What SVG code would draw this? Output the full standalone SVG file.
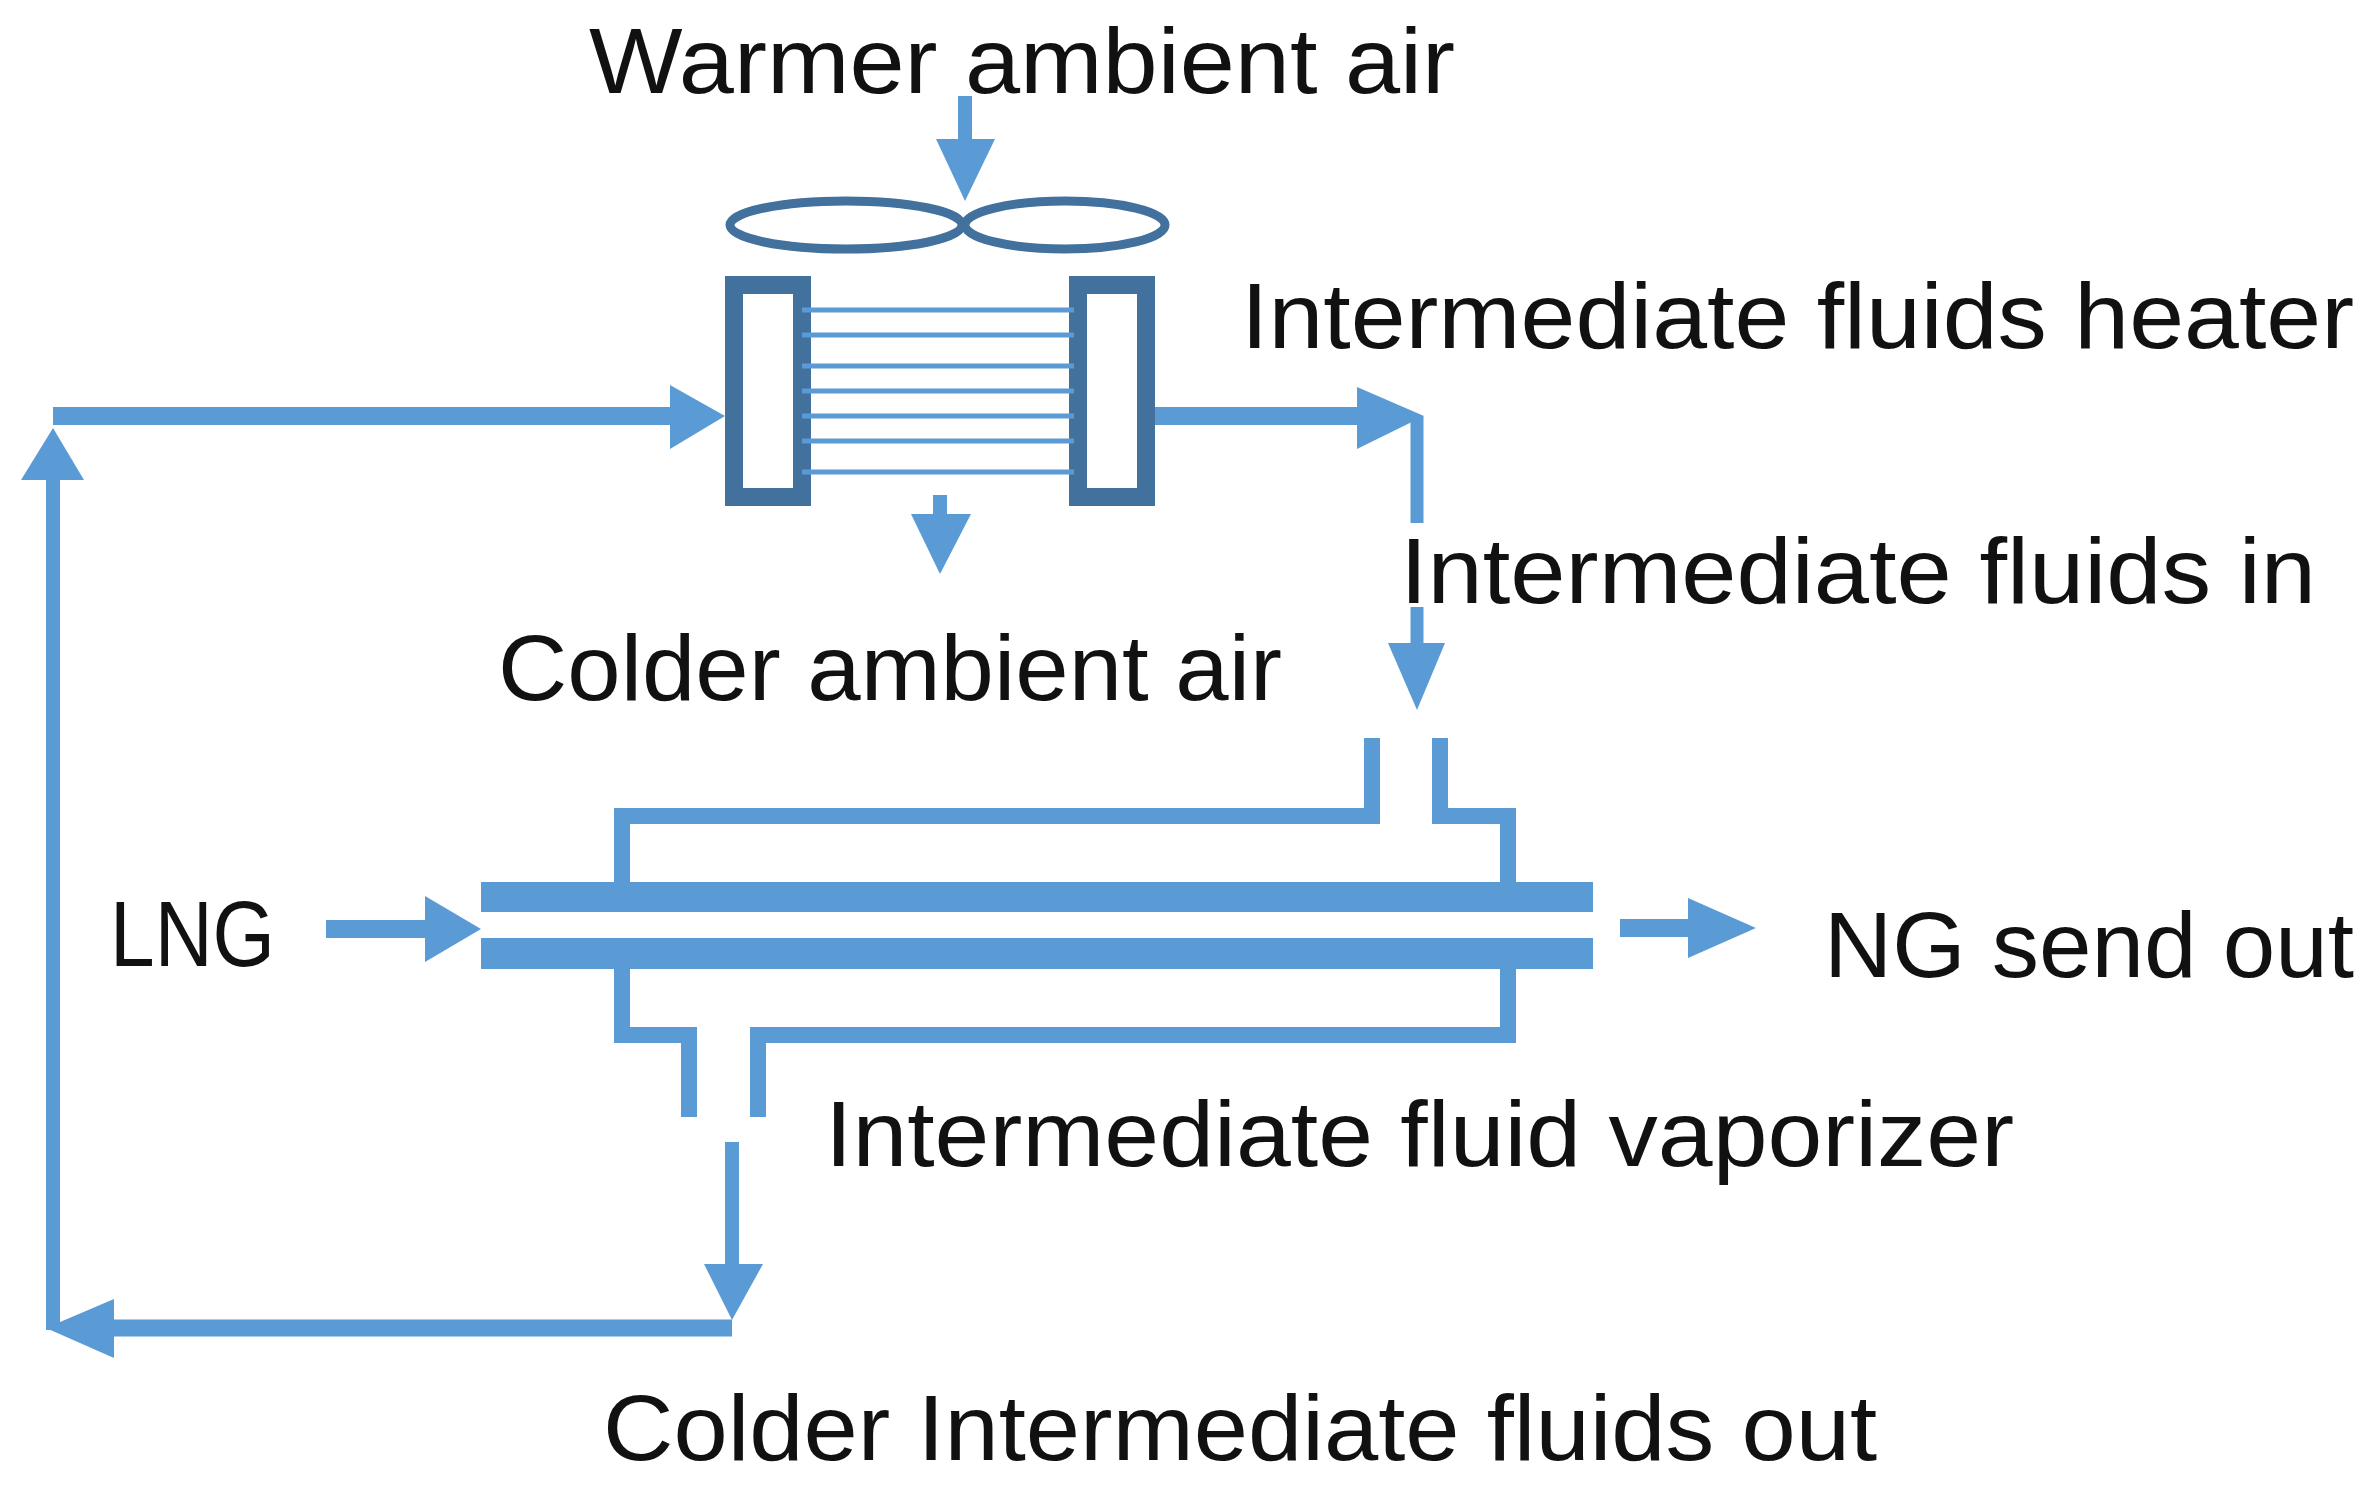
<svg xmlns="http://www.w3.org/2000/svg" width="2374" height="1497" viewBox="0 0 2374 1497">
<style>
text{font-family:"Liberation Sans",Arial,sans-serif;font-size:92px;fill:#111}
.p{stroke:#5B9BD5;fill:none}
.h{fill:#5B9BD5}
.d{stroke:#41719C;fill:none}
</style>
<rect width="2374" height="1497" fill="#fff"/>
<g id="labels">
<text x="589" y="93" textLength="866" lengthAdjust="spacingAndGlyphs">Warmer ambient air</text>
<text x="1241" y="348" textLength="1113" lengthAdjust="spacingAndGlyphs">Intermediate fluids heater</text>
<text x="1400" y="603" textLength="916" lengthAdjust="spacingAndGlyphs">Intermediate fluids in</text>
<text x="498" y="700" textLength="784" lengthAdjust="spacingAndGlyphs">Colder ambient air</text>
<text x="110" y="966" textLength="165" lengthAdjust="spacingAndGlyphs">LNG</text>
<text x="1824" y="977" textLength="530" lengthAdjust="spacingAndGlyphs">NG send out</text>
<text x="825" y="1166" textLength="1189" lengthAdjust="spacingAndGlyphs">Intermediate fluid vaporizer</text>
<text x="603" y="1460" textLength="1274" lengthAdjust="spacingAndGlyphs">Colder Intermediate fluids out</text>
</g>
<g id="heater">
<ellipse class="d" cx="846" cy="225" rx="116" ry="24" stroke-width="9"/>
<ellipse class="d" cx="1065" cy="225" rx="100" ry="24" stroke-width="9"/>
<rect class="d" x="734" y="285" width="68" height="212" stroke-width="18"/>
<rect class="d" x="1078" y="285" width="68" height="212" stroke-width="18"/>
<g class="p" stroke-width="5">
<line x1="802" y1="310" x2="1074" y2="310"/><line x1="802" y1="335" x2="1074" y2="335"/>
<line x1="802" y1="366" x2="1074" y2="366"/><line x1="802" y1="391" x2="1074" y2="391"/>
<line x1="802" y1="416" x2="1074" y2="416"/><line x1="802" y1="441" x2="1074" y2="441"/>
<line x1="802" y1="472" x2="1074" y2="472"/>
</g>
</g>
<g id="vaporizer">
<rect class="h" x="481" y="882" width="1112" height="30"/>
<rect class="h" x="481" y="938" width="1112" height="31"/>
<path class="p" stroke-width="16" d="M1372 738V816H622V882M1440 738V816H1508V882M622 969V1035H689V1117M758 1117V1035H1508V969"/>
</g>
<g id="connectors">
<path class="p" stroke-width="14" d="M965 96V145"/><path class="h" d="M936 139H995L965 201Z"/>
<path class="p" stroke-width="14" d="M940 495V520"/><path class="h" d="M911 514H971L940 574Z"/>
<path class="p" stroke-width="18" d="M53 416H680"/><path class="h" d="M670 385L725 416L670 449Z"/>
<path class="p" stroke-width="14" d="M53 1330V470"/><path class="h" d="M21 480L53 428L84 480Z"/>
<path class="p" stroke-width="18" d="M1155 416H1370"/><path class="h" d="M1357 387L1424 416L1357 449Z"/>
<path class="p" stroke-width="13" d="M1417 416V523"/>
<path class="p" stroke-width="13" d="M1417 607V650"/><path class="h" d="M1388 643H1445L1417 710Z"/>
<path class="p" stroke-width="18" d="M326 929H430"/><path class="h" d="M425 896L481 929L425 962Z"/>
<path class="p" stroke-width="18" d="M1620 928H1695"/><path class="h" d="M1688 898L1756 928L1688 958Z"/>
<path class="p" stroke-width="14" d="M732 1142V1270"/><path class="h" d="M704 1264H763L732 1320Z"/>
<path class="p" stroke-width="17" d="M732 1328H105"/><path class="h" d="M114 1299L46 1328L114 1358Z"/>
</g>
</svg>
